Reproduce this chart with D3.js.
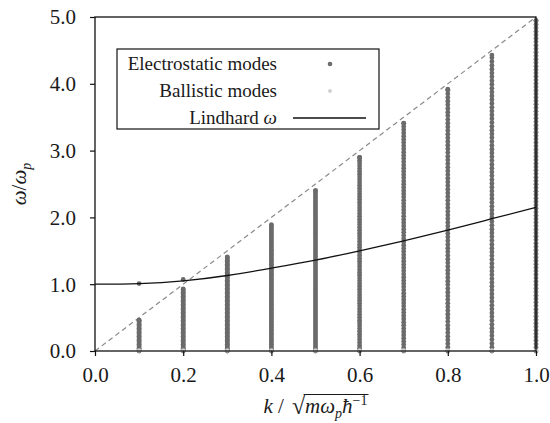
<!DOCTYPE html>
<html>
<head>
<meta charset="utf-8">
<script src="https://cdn.jsdelivr.net/npm/d3@7"></script>
<style>
  body { margin: 0; background: #fff; }
  text { font-family: "Liberation Serif", "Times New Roman", serif; fill: #1a1a1a; }
</style>
</head>
<body>
<svg id="chart" width="550" height="423"></svg>
<script>
// wave numbers of the computed columns (k / sqrt(m wp / hbar))
const kCols = [0.1, 0.2, 0.3, 0.4, 0.5, 0.6, 0.7, 0.8, 0.9, 1.0];
// highest electrostatic mode in each column (w / wp)
const colTop = [0.46, 0.93, 1.41, 1.89, 2.40, 2.90, 3.41, 3.92, 4.43, 4.95];
// spacing between neighbouring modes in each column
const colStep = [0.02, 0.02, 0.02, 0.025, 0.03, 0.042, 0.048, 0.055, 0.057, 0.052];
// isolated plasmon points above the continuum
const plasmonK = [0.1, 0.2];
const plasmonW = [1.01, 1.07];
// ballistic modes sit at the bottom of every column
const ballisticW = [0.01, 0.01, 0.01, 0.01, 0.01, 0.01, 0.01, 0.01, 0.01, 0.01];
// Lindhard dispersion
const lindK = [0.0, 0.1, 0.2, 0.3, 0.4, 0.5, 0.6, 0.7, 0.8, 0.9, 1.0];
const lindW = [1.00, 1.01, 1.05, 1.13, 1.24, 1.36, 1.50, 1.65, 1.81, 1.98, 2.15];
// dashed light-cone line w = 5k
const coneK = [0, 1];
const coneW = [0, 5];
const xTicks = [0, 0.2, 0.4, 0.6, 0.8, 1.0];
const yTicks = [0, 1, 2, 3, 4, 5];

const margin = { top: 17, right: 14, bottom: 72, left: 95 };
const W = 550, H = 423;
const svg = d3.select("#chart");

const x = d3.scaleLinear().domain([0, 1]).range([margin.left, W - margin.right]);
const y = d3.scaleLinear().domain([0, 5]).range([H - margin.bottom, margin.top]);

// electrostatic modes, one column per k
const esPts = [];
kCols.forEach((k, i) => {
  d3.range(0, colTop[i] + 1e-9, colStep[i]).forEach(w => esPts.push([k, w]));
  esPts.push([k, colTop[i]]);
});
plasmonK.forEach((k, i) => esPts.push([k, plasmonW[i]]));

// dashed line
svg.append("path")
  .attr("d", d3.line().x(d => x(d[0])).y(d => y(d[1]))(d3.zip(coneK, coneW)))
  .attr("fill", "none")
  .attr("stroke", "#8a8a8a")
  .attr("stroke-width", 1.2)
  .attr("stroke-dasharray", "5,3.5");

svg.append("g").selectAll("circle")
  .data(esPts)
  .enter().append("circle")
  .attr("cx", d => x(d[0]))
  .attr("cy", d => y(d[1]))
  .attr("r", 2.4)
  .attr("fill", "#6b6b6b");

svg.append("g").selectAll("circle")
  .data(d3.zip(kCols, ballisticW))
  .enter().append("circle")
  .attr("cx", d => x(d[0]))
  .attr("cy", d => y(d[1]))
  .attr("r", 2.2)
  .attr("fill", "#cfcfcf");

// Lindhard curve
svg.append("path")
  .attr("d", d3.line().curve(d3.curveNatural).x(d => x(d[0])).y(d => y(d[1]))(d3.zip(lindK, lindW)))
  .attr("fill", "none")
  .attr("stroke", "#111")
  .attr("stroke-width", 1.3);

// frame
svg.append("rect")
  .attr("x", x(0)).attr("y", y(5))
  .attr("width", x(1) - x(0)).attr("height", y(0) - y(5))
  .attr("fill", "none").attr("stroke", "#111").attr("stroke-width", 1.3);

// axes
const xAxis = svg.append("g")
  .attr("transform", `translate(0,${y(0)})`)
  .call(d3.axisBottom(x).tickValues(xTicks).tickSize(5).tickFormat(d3.format(".1f")));
const yAxis = svg.append("g")
  .attr("transform", `translate(${x(0)},0)`)
  .call(d3.axisLeft(y).tickValues(yTicks).tickSize(5).tickFormat(d3.format(".1f")));
[xAxis, yAxis].forEach(a => {
  a.select(".domain").remove();
  a.selectAll("line").attr("stroke", "#111").attr("stroke-width", 1.2);
  a.selectAll("text").style("font-family", "Liberation Serif").style("font-size", "21px").attr("fill", "#1a1a1a");
});
xAxis.selectAll("text").attr("y", 12).attr("dy", "0.9em");
yAxis.selectAll("text").attr("x", -19).attr("dy", "0.33em");

// y title
svg.append("text")
  .attr("transform", `translate(26,${(y(0) + y(5)) / 2}) rotate(-90)`)
  .attr("text-anchor", "middle")
  .style("font-size", "21px")
  .html('<tspan font-style="italic">ω</tspan>/<tspan font-style="italic">ω</tspan><tspan font-style="italic" font-size="14px" dy="5">p</tspan>');

// x title: k / sqrt(m wp hbar^-1)
const xt = svg.append("g");
const base = 413;
const left = xt.append("text")
  .attr("y", base)
  .style("font-size", "21px")
  .html('<tspan font-style="italic">k</tspan> /');
const rad = xt.append("text")
  .attr("y", base + 1)
  .style("font-size", "24px")
  .text("√");
const under = xt.append("text")
  .attr("y", base)
  .style("font-size", "21px")
  .html('<tspan font-style="italic">mω</tspan><tspan font-style="italic" font-size="14px" dy="5">p</tspan><tspan font-style="italic" dy="-5">ħ</tspan><tspan font-size="14px" dy="-8">−1</tspan>');
const wL = left.node().getComputedTextLength() + 8;
const wR = rad.node().getComputedTextLength();
const wU = under.node().getComputedTextLength();
const x0 = (x(0) + x(1)) / 2 - (wL + wR + wU) / 2;
left.attr("x", x0);
rad.attr("x", x0 + wL);
under.attr("x", x0 + wL + wR);
xt.append("line")
  .attr("x1", x0 + wL + wR - 1.5).attr("x2", x0 + wL + wR + wU + 1)
  .attr("y1", 394.5).attr("y2", 394.5)
  .attr("stroke", "#1a1a1a").attr("stroke-width", 1);

// legend
const lg = svg.append("g");
lg.append("rect")
  .attr("x", 117).attr("y", 49).attr("width", 262).attr("height", 80)
  .attr("fill", "#fff").attr("stroke", "#111").attr("stroke-width", 1.2);
const legNames = ["Electrostatic modes", "Ballistic modes", "Lindhard ω"];
legNames.forEach((name, i) => {
  const yy = 64 + i * 27;
  const t = lg.append("text")
    .attr("x", 277).attr("y", yy).attr("dy", "0.33em")
    .attr("text-anchor", "end")
    .style("font-size", "19px");
  if (i === 2) t.html('Lindhard <tspan font-style="italic">ω</tspan>');
  else t.text(name);
  if (i === 0) lg.append("circle").attr("cx", 330).attr("cy", yy).attr("r", 2.3).attr("fill", "#6b6b6b");
  if (i === 1) lg.append("circle").attr("cx", 330).attr("cy", yy).attr("r", 1.9).attr("fill", "#cfcfcf");
  if (i === 2) lg.append("line").attr("x1", 293).attr("x2", 366).attr("y1", yy).attr("y2", yy)
    .attr("stroke", "#111").attr("stroke-width", 1.3);
});
</script>
</body>
</html>
